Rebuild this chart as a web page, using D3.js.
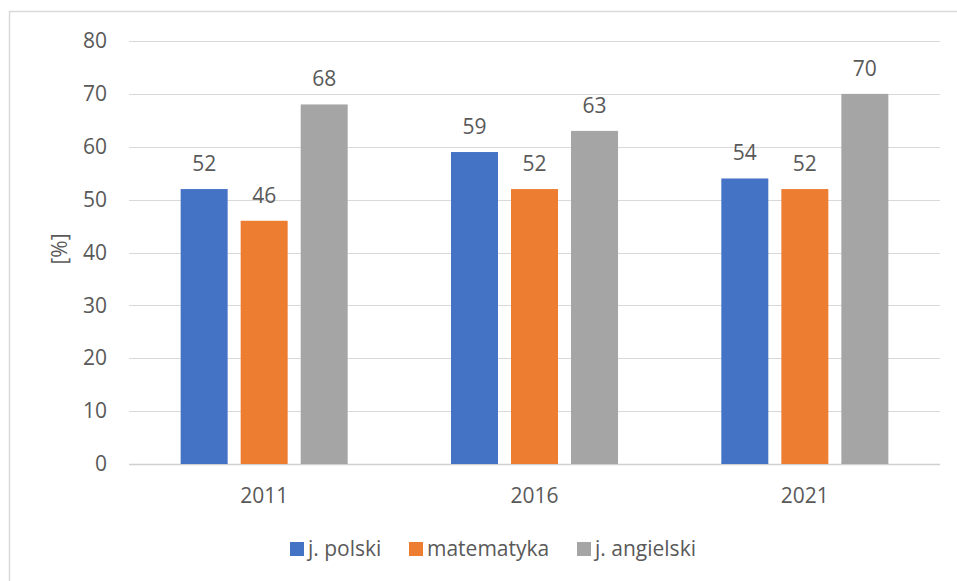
<!DOCTYPE html>
<html><head><meta charset="utf-8">
<script src="https://cdn.jsdelivr.net/npm/d3@7"></script>
<style>body{margin:0;background:#fff}svg{display:block}text{font-family:"Open Sans","Noto Sans",sans-serif;fill:#595959}</style>
</head><body><svg id="c" width="957" height="581"></svg>
<script>
const categories = ["2011","2016","2021"];
const seriesNames = ["j. polski","matematyka","j. angielski"];
const polski = [52,59,54];
const matematyka = [46,52,52];
const angielski = [68,63,70];
const yTicks = [0,10,20,30,40,50,60,70,80];
const colors = ["#4472C4","#ED7D31","#A5A5A5"];
const seriesValues = [polski, matematyka, angielski];
const FS = 21;

const svg = d3.select("#c");
svg.append("rect").attr("x",9.5).attr("y",11.5).attr("width",960).attr("height",600)
  .attr("fill","none").attr("stroke","#d9d9d9").attr("stroke-width",1.5);

const y = d3.scaleLinear().domain([0,80]).range([464,41]);
const x0 = d3.scaleBand().domain(categories).range([129,940]).padding(0);
const x1 = d3.scaleBand().domain(seriesNames).range([-90,90]).paddingInner(0.217).paddingOuter(0.108);

// gridlines
svg.append("g").selectAll("line").data(yTicks).join("line")
  .attr("x1",129).attr("x2",940).attr("y1",d=>Math.round(y(d))+0.5).attr("y2",d=>Math.round(y(d))+0.5)
  .attr("stroke",d=>d===0?"#d0d0d0":"#d9d9d9").attr("stroke-width",d=>d===0?1.5:1.2);

// y axis labels
const yAxis = d3.axisLeft(y).tickValues(yTicks).tickSize(0).tickPadding(0);
const gy = svg.append("g").attr("transform","translate(107,0)").call(yAxis);
gy.select(".domain").remove();
gy.selectAll("text").attr("font-size",FS).style("font-family","'Open Sans','Noto Sans',sans-serif").attr("fill","#595959");

// x axis labels
const xAxis = d3.axisBottom(x0).tickSize(0).tickPadding(0);
const gx = svg.append("g").attr("transform","translate(0,503)").call(xAxis);
gx.select(".domain").remove();
gx.selectAll("text").attr("font-size",FS).attr("dy",0).attr("y",0).style("font-family","'Open Sans','Noto Sans',sans-serif").attr("fill","#595959");

// y title
svg.append("text").attr("transform","translate(67,249) rotate(-90)").attr("text-anchor","middle")
  .attr("font-size",FS).text("[%]");

// bars
const groups = svg.append("g").selectAll("g").data(categories).join("g")
  .attr("transform",d=>`translate(${x0(d)+x0.bandwidth()/2},0)`);
groups.each(function(cat,ci){
  const g = d3.select(this);
  seriesNames.forEach((s,si)=>{
    const v = seriesValues[si][ci];
    g.append("rect").attr("x",x1(s)).attr("width",x1.bandwidth())
      .attr("y",y(v)).attr("height",y(0)-y(v)).attr("fill",colors[si]);
    g.append("text").attr("x",x1(s)+x1.bandwidth()/2).attr("y",y(v)-18)
      .attr("text-anchor","middle").attr("font-size",FS).attr("fill","#404040").text(v);
  });
});

// legend
const legendX = [290,409,577];
const lg = svg.append("g").selectAll("g").data(seriesNames).join("g")
  .attr("transform",(d,i)=>`translate(${legendX[i]},542)`);
lg.append("rect").attr("width",14).attr("height",14).attr("fill",(d,i)=>colors[i]);
lg.append("text").attr("x",18).attr("y",14).attr("font-size",FS).text(d=>d);
</script></body></html>
